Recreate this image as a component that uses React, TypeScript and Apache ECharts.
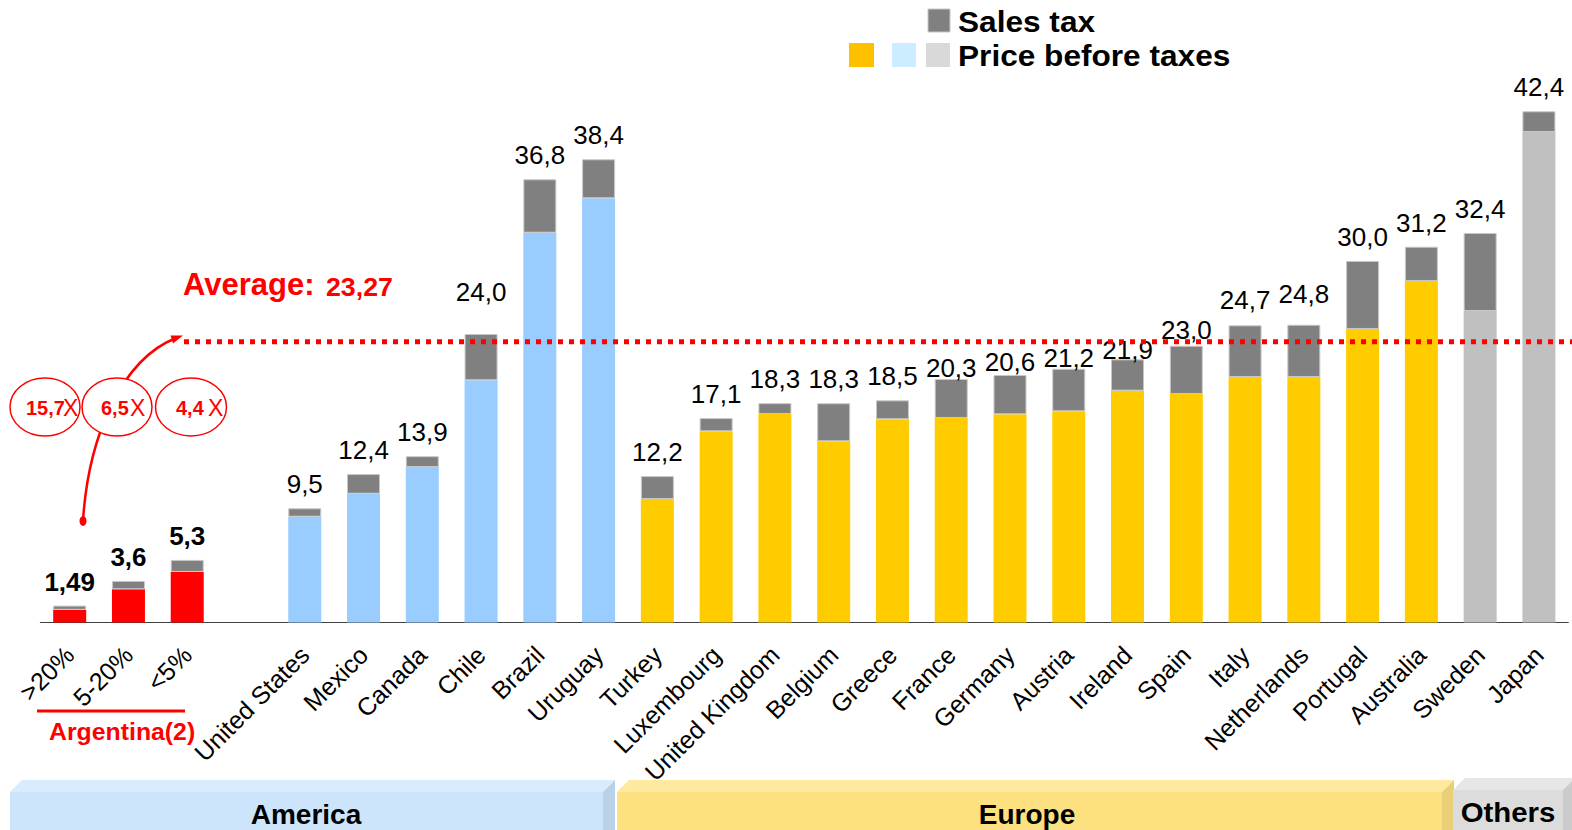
import React, { useEffect, useRef } from "react";
import * as echarts from "echarts";

const CATEGORIES = [">20%", "5-20%", "<5%", "", "United States", "Mexico", "Canada", "Chile", "Brazil", "Uruguay", "Turkey", "Luxembourg", "United Kingdom", "Belgium", "Greece", "France", "Germany", "Austria", "Ireland", "Spain", "Italy", "Netherlands", "Portugal", "Australia", "Sweden", "Japan"];
const GROUP = ["arg", "arg", "arg", "", "am", "am", "am", "am", "am", "am", "eu", "eu", "eu", "eu", "eu", "eu", "eu", "eu", "eu", "eu", "eu", "eu", "eu", "eu", "ot", "ot"];
const PRE_TAX = [1.05, 2.75, 4.19, null, 8.77, 10.68, 12.89, 20.08, 32.32, 35.17, 10.24, 15.85, 17.29, 15.02, 16.85, 16.96, 17.26, 17.51, 19.22, 18.95, 20.36, 20.36, 24.34, 28.32, 25.83, 40.67];
const SALES_TAX = [0.35, 0.7, 1.0, null, 0.7, 1.63, 0.9, 3.84, 4.43, 3.24, 1.9, 1.1, 0.9, 3.16, 1.57, 3.23, 3.26, 3.53, 2.6, 4.0, 4.28, 4.33, 5.64, 2.84, 6.47, 1.72];
const TOTALS = [1.49, 3.6, 5.3, null, 9.5, 12.4, 13.9, 24.0, 36.8, 38.4, 12.2, 17.1, 18.3, 18.3, 18.5, 20.3, 20.6, 21.2, 21.9, 23.0, 24.7, 24.8, 30.0, 31.2, 32.4, 42.4];
const AVERAGE = 23.27;
const MULTIPLES = ["15,7", "6,5", "4,4"];
const REGIONS = ["America", "Europe", "Others"];

const GROUP_COLOR: Record<string, string> = { arg: "#FF0000", am: "#99CCFF", eu: "#FFCC00", ot: "#C0C0C0" };
const LABEL_NUDGE: Record<string, number> = { Chile: 18, France: -13, Germany: -11, Austria: -13, Ireland: -15, Spain: -8, Italy: 1, Netherlands: 7 };

const FONT = '"Liberation Sans", Arial, Helvetica, sans-serif';

function fmt(v: number) {
  const s = Number.isInteger(Math.round(v * 100) / 10) ? v.toFixed(1) : v.toFixed(2);
  return s.replace(".", ",");
}

export default function App() {
  const ref = useRef<HTMLDivElement>(null);
  useEffect(() => {
    const chart = echarts.init(ref.current!, null, { renderer: "svg" });
    const preData = PRE_TAX.map((v, i) => ({ value: v, itemStyle: { color: GROUP_COLOR[GROUP[i]] || "#fff" } }));
    const taxData = SALES_TAX.map((v, i) => {
      const t = TOTALS[i];
      const nudge = LABEL_NUDGE[CATEGORIES[i]] || 0;
      return {
        value: v,
        label: {
          show: t != null,
          formatter: t != null ? fmt(t) : "",
          fontWeight: GROUP[i] === "arg" ? "bold" : "normal",
          offset: [0, -nudge],
        },
      };
    });
    const option: any = {
      animation: false,
      grid: { left: 40.3, width: 1528, top: 79.8, bottom: 207.5 },
      xAxis: {
        type: "category",
        data: CATEGORIES,
        axisLine: { lineStyle: { color: "#404040", width: 1 } },
        axisTick: { show: false },
        axisLabel: { interval: 0, rotate: 45, fontSize: 25, color: "#000", fontFamily: FONT, margin: 28 },
      },
      yAxis: { type: "value", min: 0, max: 45, show: false, splitLine: { show: false } },
      series: [
        { type: "bar", stack: "p", data: preData, barWidth: 33 },
        {
          type: "bar",
          stack: "p",
          data: taxData,
          barWidth: 33,
          itemStyle: { color: "#808080", borderColor: "#C8C8C8", borderWidth: 1 },
          label: { show: true, position: "top", distance: 11, fontSize: 26, color: "#000", fontFamily: FONT },
        },
      ],
    };
    chart.setOption(option);
    const yAvg = chart.convertToPixel({ yAxisIndex: 0 }, AVERAGE) as number;

    const tx = (text: string, x: number, y: number, size: number, opts: any = {}) => ({
      type: "text",
      x,
      y,
      z: 110,
      scaleX: opts.sx || 1,
      style: {
        text,
        fontSize: size,
        fontFamily: FONT,
        fontWeight: opts.weight || "bold",
        fill: opts.fill || "#000",
        align: opts.align || "left",
        verticalAlign: "middle",
      },
    });

    const band = (x0: number, x1: number, yTop: number, front: string, top: string, side: string) => [
      { type: "polygon", z: 1, shape: { points: [[x0, yTop + 12], [x0 + 12, yTop], [x1 + 12, yTop], [x1, yTop + 12]] }, style: { fill: top } },
      { type: "polygon", z: 1, shape: { points: [[x1, yTop + 12], [x1 + 12, yTop], [x1 + 12, 830], [x1, 830]] }, style: { fill: side } },
      { type: "rect", z: 1, shape: { x: x0, y: yTop + 12, width: x1 - x0, height: 830 - yTop - 12 }, style: { fill: front } },
    ];

    const graphic: any[] = [
      // legend
      { type: "rect", z: 110, shape: { x: 928, y: 9, width: 22, height: 23 }, style: { fill: "#808080", stroke: "#C8C8C8", lineWidth: 1 } },
      tx("Sales tax", 958, 22, 29, { sx: 1.09 }),
      { type: "rect", z: 110, shape: { x: 849, y: 43, width: 25, height: 24 }, style: { fill: "#FFC000" } },
      { type: "rect", z: 110, shape: { x: 892, y: 43, width: 24, height: 24 }, style: { fill: "#CCECFF" } },
      { type: "rect", z: 110, shape: { x: 926, y: 43, width: 24, height: 24 }, style: { fill: "#D9D9D9" } },
      tx("Price before taxes", 958, 56, 29, { sx: 1.09 }),
      // average
      { type: "line", z: 120, shape: { x1: 184, y1: yAvg, x2: 1572, y2: yAvg }, style: { stroke: "#FF0000", lineWidth: 5, lineDash: [5, 6] } },
      tx("Average:", 183, 284, 31, { fill: "#FF0000" }),
      tx(fmt(AVERAGE), 326, 287, 25, { fill: "#FF0000", sx: 1.07 }),
      // arrow
      { type: "bezierCurve", z: 105, shape: { x1: 83, y1: 521, cpx1: 88, cpy1: 440, cpx2: 120, cpy2: 360, x2: 176, y2: 338 }, style: { stroke: "#FF0000", lineWidth: 2.5, fill: null } },
      { type: "polygon", z: 105, shape: { points: [[183, 335.5], [173, 343.5], [170.5, 335.5]] }, style: { fill: "#FF0000" } },
      { type: "ellipse", z: 105, shape: { cx: 83, cy: 521, rx: 3.5, ry: 5 }, style: { fill: "#FF0000" } },
      // ellipses
      { type: "ellipse", z: 106, shape: { cx: 45, cy: 407, rx: 35, ry: 29 }, style: { fill: "#fff", stroke: "#FF0000", lineWidth: 1.5 } },
      { type: "ellipse", z: 106, shape: { cx: 117, cy: 407, rx: 35, ry: 29 }, style: { fill: "#fff", stroke: "#FF0000", lineWidth: 1.5 } },
      { type: "ellipse", z: 106, shape: { cx: 191, cy: 407, rx: 35.5, ry: 29 }, style: { fill: "#fff", stroke: "#FF0000", lineWidth: 1.5 } },
      tx(MULTIPLES[0], 26, 408, 20, { fill: "#FF0000" }),
      tx("X", 63, 408, 23, { fill: "#FF0000", weight: "normal" }),
      tx(MULTIPLES[1], 101, 408, 20, { fill: "#FF0000" }),
      tx("X", 130, 408, 23, { fill: "#FF0000", weight: "normal" }),
      tx(MULTIPLES[2], 176, 408, 20, { fill: "#FF0000" }),
      tx("X", 208, 408, 23, { fill: "#FF0000", weight: "normal" }),
      // Argentina group
      { type: "line", z: 105, shape: { x1: 37, y1: 711, x2: 185, y2: 711 }, style: { stroke: "#FF0000", lineWidth: 3 } },
      tx("Argentina(2)", 49, 732, 24, { fill: "#FF0000", sx: 1.035 }),
      // region bands
      ...band(10, 603, 780, "#CCE5FB", "#D9ECFD", "#BBD1E8"),
      ...band(617, 1442, 780, "#FDE07F", "#FEE99E", "#E9CF78"),
      ...band(1453, 1563, 778, "#DCDCDC", "#E6E6E6", "#CBCBCB"),
      tx(REGIONS[0], 306, 814, 28, { align: "center" }),
      tx(REGIONS[1], 1027, 814, 28, { align: "center" }),
      tx(REGIONS[2], 1508, 812, 28, { align: "center", sx: 1.05 }),
    ];
    chart.setOption({ graphic });
    return () => chart.dispose();
  }, []);
  return <div ref={ref} style={{ position: "absolute", left: 0, top: 0, width: 1572, height: 830, background: "#fff" }} />;
}
